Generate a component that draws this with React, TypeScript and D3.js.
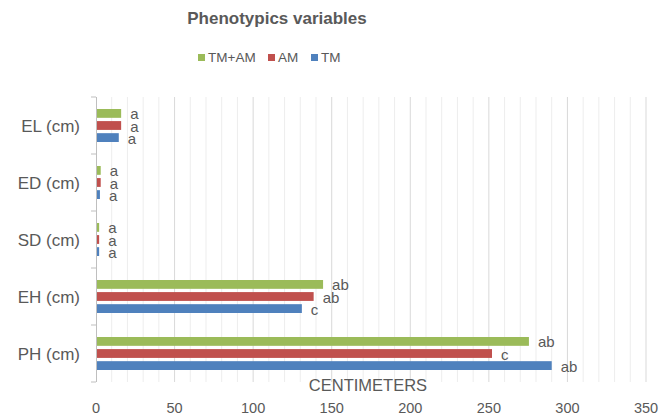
import React from "react";
import * as d3 from "d3";

const categories = ["EL (cm)", "ED (cm)", "SD (cm)", "EH (cm)", "PH (cm)"];
const seriesNames = ["TM+AM", "AM", "TM"];
const seriesColors = ["#9BBB59", "#C0504D", "#4F81BD"];
const tmamValues = [16, 3, 2, 144.5, 275.5];
const amValues = [16, 3, 2, 138.5, 252];
const tmValues = [14.5, 2.5, 2, 131, 290];
const tmamLabels = ["a", "a", "a", "ab", "ab"];
const amLabels = ["a", "a", "a", "ab", "c"];
const tmLabels = ["a", "a", "a", "c", "ab"];
const xTicks = [0, 50, 100, 150, 200, 250, 300, 350];

const W = 660;
const H = 418;
const FONT = "'Liberation Sans', Arial, sans-serif";
const TEXT = "#595959";

export default function App() {
  const x = d3.scaleLinear().domain([0, 350]).range([96, 646]);
  const y = d3.scaleBand<string>().domain(categories).range([97, 382]).paddingInner(0).paddingOuter(0);
  const groupH = 33;
  const ySub = d3
    .scaleBand<string>()
    .domain(seriesNames)
    .range([(y.bandwidth() - groupH) / 2, (y.bandwidth() + groupH) / 2])
    .paddingInner(0.27);

  const values = [tmamValues, amValues, tmValues];
  const labels = [tmamLabels, amLabels, tmLabels];
  const grid = d3.range(10, 351, 10);
  const boundaries = categories.map((c) => y(c)!).concat([y.range()[1]]);

  const legendX = [198, 268, 311];

  return (
    <svg width={W} height={H} style={{ position: "absolute", left: 0, top: 0, background: "#fff" }} fontFamily={FONT}>
      <rect width={W} height={H} fill="#fff" />
      <text x={277} y={24} textAnchor="middle" fontSize={17} fontWeight="bold" fill={TEXT}>
        Phenotypics variables
      </text>
      {seriesNames.map((s, i) => (
        <g key={s}>
          <rect x={legendX[i]} y={54} width={7} height={7} fill={seriesColors[i]} />
          <text x={legendX[i] + 10} y={62} fontSize={13.5} fill={TEXT}>
            {s}
          </text>
        </g>
      ))}
      {grid.map((g) => (
        <line
          key={g}
          x1={x(g)}
          x2={x(g)}
          y1={97}
          y2={382}
          stroke={g % 50 === 0 ? "#d9d9d9" : "#ededed"}
          strokeWidth={1}
        />
      ))}
      {categories.map((c, ci) =>
        seriesNames.map((s, si) => {
          const v = values[si][ci];
          const by = y(c)! + ySub(s)!;
          return (
            <g key={c + s}>
              <rect x={x(0)} y={by} width={x(v) - x(0)} height={ySub.bandwidth()} fill={seriesColors[si]} />
              <text x={x(v) + 9} y={by + ySub.bandwidth() / 2 + 6} fontSize={15} fill={TEXT}>
                {labels[si][ci]}
              </text>
            </g>
          );
        })
      )}
      <line x1={x(0) + 0.5} x2={x(0) + 0.5} y1={97} y2={382} stroke="#bfbfbf" />
      {boundaries.map((b, i) => (
        <line key={i} x1={x(0) - 5} x2={x(0)} y1={b} y2={b} stroke="#bfbfbf" />
      ))}
      {categories.map((c) => (
        <text key={c} x={80} y={y(c)! + y.bandwidth() / 2 + 6} textAnchor="end" fontSize={17} fill={TEXT}>
          {c}
        </text>
      ))}
      {xTicks.map((t) => (
        <text key={t} x={x(t)} y={413} textAnchor="middle" fontSize={14.5} fill={TEXT}>
          {t}
        </text>
      ))}
      <text x={368} y={391} textAnchor="middle" fontSize={16.5} fill={TEXT}>
        CENTIMETERS
      </text>
    </svg>
  );
}
